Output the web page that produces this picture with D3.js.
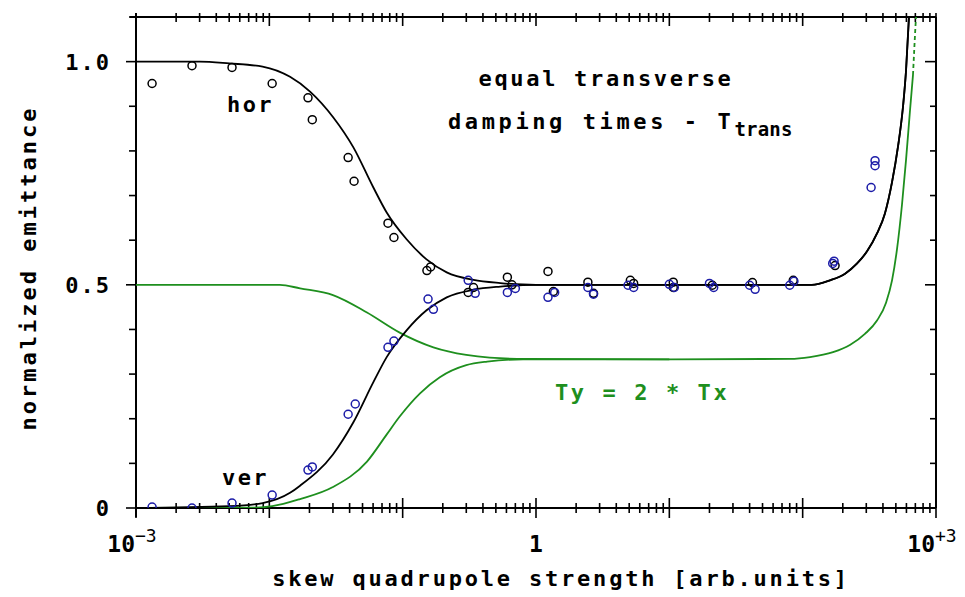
<!DOCTYPE html>
<html><head><meta charset="utf-8">
<script src="https://cdn.jsdelivr.net/npm/d3@7"></script>
<style>
html,body{margin:0;padding:0;background:#fff;}
text{font-family:"DejaVu Sans Mono",monospace;font-weight:bold;}
</style></head>
<body><svg id="c" width="965" height="597"></svg>
<script>
// ---- data ----
const horCurveX = [0.001,0.003,0.005,0.0089,0.0143,0.0202,0.0302,0.0427,0.0603,0.0759,0.107,0.151,0.214,0.34,0.54,1,10,80,117,160,208,256,304,361,414,468,519,566,596,627];
const horCurveY = [1.0,1.0,0.996,0.989,0.966,0.933,0.875,0.808,0.718,0.662,0.602,0.557,0.528,0.511,0.504,0.5,0.5,0.5,0.5,0.51,0.525,0.548,0.575,0.615,0.66,0.73,0.81,0.90,0.98,1.1];
const verCurveX = [0.001,0.005,0.0089,0.0143,0.017,0.030,0.0427,0.0603,0.0759,0.107,0.151,0.214,0.34,0.54,1,10,80,117,160,208,256,304,361,414,468,519,566,596,627];
const verCurveY = [0.0,0.004,0.011,0.034,0.05,0.12,0.192,0.282,0.338,0.398,0.443,0.472,0.489,0.496,0.5,0.5,0.5,0.5,0.51,0.525,0.548,0.575,0.615,0.66,0.73,0.81,0.90,0.98,1.1];
const greenUpperX = [0.001,0.012,0.017,0.030,0.054,0.095,0.17,0.30,0.45,0.85,10,80.4,113.5,169,226,293,361,422,468,510,556,596,638,672];
const greenUpperY = [0.5,0.5,0.492,0.477,0.438,0.393,0.36,0.343,0.337,0.334,0.333,0.334,0.338,0.349,0.365,0.39,0.42,0.46,0.51,0.58,0.68,0.78,0.89,0.97];
const greenLowerX = [0.001,0.008,0.0105,0.017,0.030,0.054,0.076,0.095,0.135,0.19,0.30,0.43,0.8,10];
const greenLowerY = [0.0,0.001,0.004,0.02,0.047,0.104,0.165,0.205,0.257,0.293,0.32,0.328,0.333,0.333];
const greenDashX = [672,708,746];
const greenDashY = [0.97,1.1,1.2];

const horPtsX = [0.00132,0.00263,0.00525,0.0105,0.0195,0.021,0.039,0.0432,0.0776,0.086,0.152,0.162,0.34,0.31,0.61,0.66,1.23,1.35,2.45,2.7,5.1,5.4,10.7,10.7,21,42,85,175];
const horPtsY = [0.951,0.991,0.987,0.951,0.919,0.87,0.785,0.732,0.638,0.606,0.532,0.54,0.494,0.483,0.517,0.50,0.53,0.485,0.506,0.481,0.51,0.503,0.506,0.494,0.499,0.505,0.51,0.543];
const verPtsX = [0.00132,0.00263,0.00525,0.0105,0.0195,0.021,0.039,0.0441,0.0776,0.086,0.155,0.17,0.31,0.35,0.61,0.70,1.23,1.38,2.45,2.7,4.9,5.4,10,10.9,20,21.5,40,44,80,86,168,172,326,349,349];
const verPtsY = [0.002,0.0,0.011,0.029,0.085,0.092,0.21,0.233,0.36,0.374,0.468,0.445,0.51,0.481,0.483,0.492,0.472,0.483,0.494,0.479,0.499,0.494,0.501,0.494,0.503,0.494,0.499,0.49,0.499,0.508,0.548,0.553,0.718,0.767,0.778];

const xTickValues = [0.001,1,1000];
const xTickBase = ["10","1","10"];
const xTickSup = ["\u22123","","+3"];
const yTickValues = [0,0.5,1.0];
const yTickLabels = ["0","0.5","1.0"];

// ---- drawing ----
const svg = d3.select("#c");
svg.append("rect").attr("width",965).attr("height",597).attr("fill","#fff");
const L=136,R=936,T=17,B=508;
const x = d3.scaleLog().domain([0.001,1000]).range([L,R]);
const y = d3.scaleLinear().domain([0,1.1]).range([B,T]);
const BLACK="#000", GREEN="#1e8f1e", BLUE="#1c1ca8";

svg.append("clipPath").attr("id","clip").append("rect").attr("x",L).attr("y",T).attr("width",R-L).attr("height",B-T);

// axes frame
const ax = svg.append("g").attr("stroke","#000").attr("stroke-width",2);
ax.append("line").attr("x1",130).attr("x2",R).attr("y1",T).attr("y2",T);
ax.append("line").attr("x1",L).attr("x2",R).attr("y1",B).attr("y2",B);
ax.append("line").attr("x1",L).attr("x2",L).attr("y1",13).attr("y2",517);
ax.append("line").attr("x1",R).attr("x2",R).attr("y1",T).attr("y2",B);

const xt = x.ticks();
xt.forEach(v=>{
  const maj = Math.abs(Math.log10(v)-Math.round(Math.log10(v)))<1e-9;
  const px = x(v);
  ax.append("line").attr("x1",px).attr("x2",px).attr("y1",B-(maj?10:5)).attr("y2",B+(maj?10:5)).attr("stroke-width",1.6);
  ax.append("line").attr("x1",px).attr("x2",px).attr("y1",T-4).attr("y2",T+(maj?9:5)).attr("stroke-width",1.6);
});
const yt = d3.range(0,12).map(i=>i/10);
yt.forEach(v=>{
  const maj = Math.abs(v*2-Math.round(v*2))<1e-9;
  const py = y(v);
  ax.append("line").attr("x1",L-(maj?10:7)).attr("x2",L).attr("y1",py).attr("y2",py).attr("stroke-width",1.6);
  if(v<=1.0) ax.append("line").attr("x1",R-(maj?11:6)).attr("x2",R).attr("y1",py).attr("y2",py).attr("stroke-width",1.6);
});

// tick labels
yTickValues.forEach((v,i)=>{
  svg.append("text").attr("x",111).attr("y",y(v)+8).attr("text-anchor","end")
    .attr("font-size",22).attr("letter-spacing",2).text(yTickLabels[i]);
});
xTickValues.forEach((v,i)=>{
  const t = svg.append("text").attr("x",x(v)-(xTickSup[i]?4:0)).attr("y",552).attr("text-anchor","middle").attr("font-size",23);
  t.append("tspan").text(xTickBase[i]);
  if(xTickSup[i]) t.append("tspan").attr("dy",-10).attr("font-size",18).attr("font-weight","normal").text(xTickSup[i]);
});

// axis titles
svg.append("text").attr("x",561).attr("y",586).attr("text-anchor","middle").attr("font-size",22).attr("letter-spacing",2.8)
  .text("skew quadrupole strength [arb.units]");
svg.append("text").attr("transform","translate(36,268) rotate(-90)").attr("text-anchor","middle").attr("font-size",22).attr("letter-spacing",3)
  .text("normalized emittance");

// curves
const g = svg.append("g").attr("clip-path","url(#clip)");
const line = d3.line().x(d=>x(d[0])).y(d=>y(d[1])).curve(d3.curveMonotoneX);
const zip = (a,b)=>a.map((v,i)=>[v,b[i]]);
g.append("path").datum(zip(greenUpperX,greenUpperY)).attr("d",line).attr("fill","none").attr("stroke",GREEN).attr("stroke-width",1.8);
g.append("path").datum(zip(greenLowerX,greenLowerY)).attr("d",line).attr("fill","none").attr("stroke",GREEN).attr("stroke-width",1.8);
g.append("path").datum(zip(greenDashX,greenDashY)).attr("d",line).attr("fill","none").attr("stroke",GREEN).attr("stroke-width",1.8).attr("stroke-dasharray","4,3");
g.append("path").datum(zip(horCurveX,horCurveY)).attr("d",line).attr("fill","none").attr("stroke",BLACK).attr("stroke-width",1.8);
g.append("path").datum(zip(verCurveX,verCurveY)).attr("d",line).attr("fill","none").attr("stroke",BLACK).attr("stroke-width",1.8);

// points
g.selectAll("circle.h").data(zip(horPtsX,horPtsY)).enter().append("circle").attr("class","h")
  .attr("cx",d=>x(d[0])).attr("cy",d=>y(d[1])).attr("r",4).attr("fill","none").attr("stroke",BLACK).attr("stroke-width",1.5);
g.selectAll("circle.v").data(zip(verPtsX,verPtsY)).enter().append("circle").attr("class","v")
  .attr("cx",d=>x(d[0])).attr("cy",d=>y(d[1])).attr("r",4).attr("fill","none").attr("stroke",BLUE).attr("stroke-width",1.5);

// annotations
svg.append("text").attr("x",606).attr("y",86).attr("text-anchor","middle").attr("font-size",22).attr("letter-spacing",2.7).text("equal transverse");
const t2 = svg.append("text").attr("x",448).attr("y",129).attr("font-size",22).attr("letter-spacing",3.6);
t2.append("tspan").text("damping times - T");
t2.append("tspan").attr("dy",7).attr("font-size",19).attr("letter-spacing",0.2).text("trans");
svg.append("text").attr("x",227).attr("y",112).attr("font-size",22).attr("letter-spacing",2.4).text("hor");
svg.append("text").attr("x",222).attr("y",485).attr("font-size",22).attr("letter-spacing",2.4).text("ver");
svg.append("text").attr("x",555).attr("y",400).attr("font-size",22).attr("letter-spacing",2.6).attr("fill",GREEN).text("Ty = 2 * Tx");
</script></body></html>
